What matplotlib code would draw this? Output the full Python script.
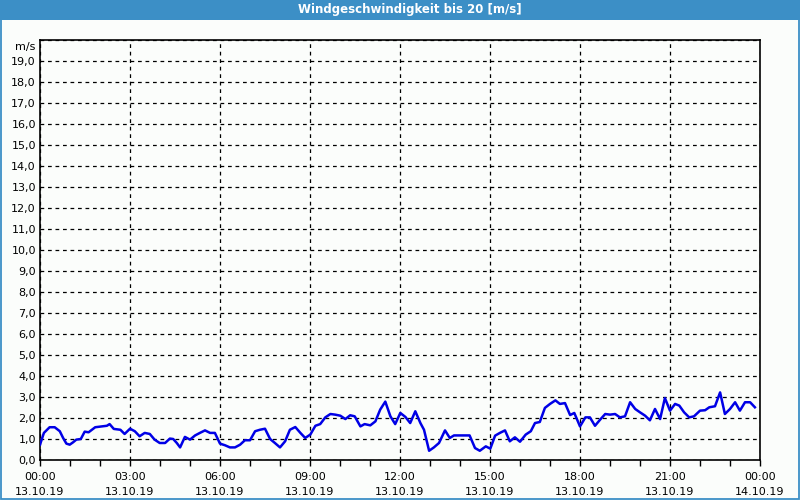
import matplotlib
matplotlib.use("Agg")
import matplotlib.pyplot as plt
from matplotlib.patches import Rectangle
from matplotlib.ticker import MultipleLocator, FuncFormatter

# time of day in hours, wind speed in m/s
hours = [0.0, 0.13, 0.32, 0.49, 0.66, 0.77, 0.88, 0.99, 1.1, 1.21, 1.36,
         1.49, 1.62, 1.84, 2.07, 2.23, 2.32, 2.46, 2.68, 2.82, 3.0, 3.16,
         3.32, 3.49, 3.66, 3.82, 3.99, 4.17, 4.33, 4.44, 4.56, 4.67, 4.83,
         5.0, 5.17, 5.33, 5.5, 5.67, 5.83, 6.0, 6.17, 6.33, 6.5, 6.67,
         6.83, 7.0, 7.17, 7.33, 7.5, 7.67, 7.83, 8.0, 8.17, 8.33, 8.51,
         8.68, 8.84, 9.01, 9.18, 9.34, 9.51, 9.68, 9.84, 10.01, 10.18,
         10.34, 10.49, 10.68, 10.82, 11.01, 11.18, 11.34, 11.51, 11.68,
         11.84, 12.01, 12.18, 12.34, 12.51, 12.68, 12.8, 12.97, 13.13,
         13.3, 13.5, 13.66, 13.8, 13.97, 14.13, 14.32, 14.5, 14.66, 14.86,
         15.01, 15.17, 15.33, 15.5, 15.66, 15.83, 16.0, 16.19, 16.36, 16.5,
         16.66, 16.83, 17.0, 17.18, 17.33, 17.5, 17.67, 17.81, 18.0, 18.18,
         18.33, 18.5, 18.67, 18.84, 19.0, 19.17, 19.33, 19.5, 19.67, 19.84,
         20.0, 20.17, 20.33, 20.5, 20.67, 20.83, 21.0, 21.17, 21.31, 21.47,
         21.64, 21.8, 22.0, 22.17, 22.31, 22.5, 22.67, 22.83, 23.0, 23.17,
         23.33, 23.5, 23.67, 23.83]
speed = [0.73, 1.29, 1.56, 1.56, 1.37, 1.05, 0.78, 0.73, 0.84, 0.97, 1.0,
         1.35, 1.32, 1.56, 1.6, 1.63, 1.71, 1.48, 1.44, 1.24, 1.49, 1.37,
         1.13, 1.29, 1.24, 0.97, 0.81, 0.81, 1.02, 1.0, 0.81, 0.6, 1.1,
         0.97, 1.17, 1.29, 1.41, 1.29, 1.29, 0.78, 0.7, 0.6, 0.6, 0.73,
         0.94, 0.94, 1.37, 1.44, 1.49, 1.0, 0.81, 0.6, 0.89, 1.44, 1.57,
         1.29, 1.05, 1.21, 1.63, 1.71, 2.03, 2.19, 2.16, 2.11, 1.95,
         2.13, 2.08, 1.6, 1.71, 1.65, 1.84, 2.4, 2.78, 2.08,
         1.71, 2.24, 2.05, 1.76, 2.32, 1.76, 1.44, 0.44, 0.6,
         0.81, 1.41, 1.05, 1.17, 1.17, 1.17, 1.17, 0.57, 0.44, 0.65,
         0.54, 1.16, 1.29, 1.41, 0.89, 1.08, 0.87, 1.21, 1.37, 1.76,
         1.81, 2.48, 2.67, 2.84, 2.67, 2.71, 2.14, 2.24, 1.6, 2.03,
         2.03, 1.63, 1.92, 2.19, 2.16, 2.19, 2.03, 2.08, 2.75, 2.43,
         2.27, 2.11, 1.89, 2.43, 1.95, 2.95, 2.35, 2.67, 2.59, 2.27,
         2.03, 2.08, 2.35, 2.37, 2.51, 2.56, 3.22, 2.19, 2.43, 2.75,
         2.35, 2.75, 2.75, 2.51]

xtick_hours = [0, 3, 6, 9, 12, 15, 18, 21, 24]
xtick_labels = ["00:00\n13.10.19", "03:00\n13.10.19", "06:00\n13.10.19",
                "09:00\n13.10.19", "12:00\n13.10.19", "15:00\n13.10.19",
                "18:00\n13.10.19", "21:00\n13.10.19", "00:00\n14.10.19"]

title = "Windgeschwindigkeit bis 20 [m/s]"
unit = "m/s"

bar_blue = "#3c8fc6"

fig = plt.figure(figsize=(8, 5), dpi=100, facecolor="#fbfdfb")

# title bar and window border
fig.patches.append(Rectangle((0, 0.96), 1, 0.04, transform=fig.transFigure,
                             facecolor=bar_blue, edgecolor="none", zorder=0))
fig.patches.append(Rectangle((0.001, 0.002), 0.998, 0.997, transform=fig.transFigure,
                             facecolor="none", edgecolor=bar_blue, linewidth=1.3, zorder=1))
fig.text(0.512, 0.981, title, color="white", fontsize=8.5, fontweight="bold",
         ha="center", va="center")

ax = fig.add_axes([0.05, 0.08, 0.90, 0.84])
ax.set_facecolor("#fbfdfb")
ax.plot(hours, speed, color="#0000e6", linewidth=1.8, zorder=3)

ax.set_xlim(0, 24)
ax.set_ylim(0, 20)

ax.set_xticks(xtick_hours)
ax.set_xticklabels(xtick_labels, fontsize=8, linespacing=1.6)
ax.xaxis.set_minor_locator(MultipleLocator(1))
ax.tick_params(axis="x", which="major", length=4, width=1, pad=5, color="black")
ax.tick_params(axis="x", which="minor", length=4, width=1, color="black")

ax.yaxis.set_major_locator(MultipleLocator(1))
ax.yaxis.set_major_formatter(FuncFormatter(
    lambda v, p: "" if v >= 20 else ("%.1f" % v).replace(".", ",")))
ax.tick_params(axis="y", length=0, pad=3, labelsize=8)

ax.grid(True, which="major", color="black", linestyle=(0, (3, 3)), linewidth=0.9)

for s in ax.spines.values():
    s.set_color("black")
    s.set_linewidth(1.2)

ax.text(-0.006, 0.995, unit, transform=ax.transAxes, ha="right", va="top", fontsize=8)

fig.savefig("out.png", dpi=100, facecolor=fig.get_facecolor())
